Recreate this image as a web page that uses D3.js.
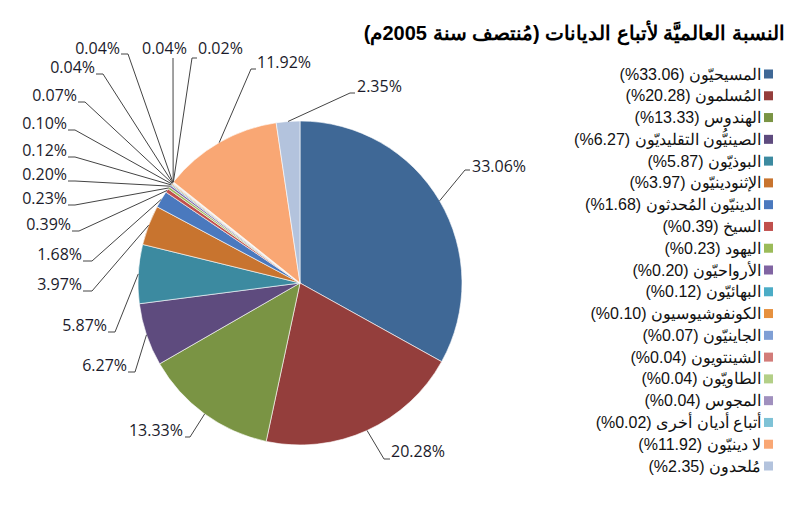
<!DOCTYPE html>
<html><head><meta charset="utf-8">
<script src="https://cdn.jsdelivr.net/npm/d3@7"></script>
<style>body{margin:0;background:#fff}svg{display:block}</style>
</head><body>
<svg id="c" width="800" height="514"></svg>
<script>
const title = "النسبة العالميَّة لأتباع الديانات (مُنتصف سنة 2005م)";
const categories = ["المسيحيّون","المُسلمون","الهندوس","الصينيُّون التقليديّون","البوذيّون","الإثنودينيّون","الدينيّون المُحدثون","السيخ","اليهود","الأرواحيّون","البهائيّون","الكونفوشيوسيون","الجاينيّون","الشينتويون","الطاويّون","المجوس","أتباع أديان أخرى","لا دينيّون","مُلحدون"];
const values = [33.06,20.28,13.33,6.27,5.87,3.97,1.68,0.39,0.23,0.20,0.12,0.10,0.07,0.04,0.04,0.04,0.02,11.92,2.35];
const colors = ["#3F6896","#943E3C","#7A9444","#5E4B7E","#3C8AA0","#C8742F","#4A79BE","#C0504D","#9BBB59","#8064A2","#4BACC6","#E6913F","#7F9FD5","#D27C79","#B3CF87","#A090BE","#7EC2D6","#F9A774","#B3C3DD"];
// label layout: text x, baseline y, anchor, elbow (ex,ey), horizontal end hx
const labelLayout = [
 {x:472,y:172,a:"start",ex:465,ey:170,hx:470},
 {x:391,y:457,a:"start",ex:384,ey:459,hx:390},
 {x:183,y:436,a:"end",ex:190,ey:437,hx:185},
 {x:127,y:371,a:"end",ex:135,ey:372,hx:128},
 {x:107,y:331,a:"end",ex:115,ey:332,hx:108},
 {x:82,y:290,a:"end",ex:92,ey:291,hx:83},
 {x:82,y:260,a:"end",ex:92,ey:261,hx:83},
 {x:71,y:230,a:"end",ex:79,ey:231,hx:72},
 {x:67,y:204,a:"end",ex:75,ey:205,hx:68},
 {x:67,y:180,a:"end",ex:75,ey:181,hx:68},
 {x:67,y:156,a:"end",ex:75,ey:157,hx:68},
 {x:67,y:129,a:"end",ex:75,ey:130,hx:68},
 {x:77,y:101,a:"end",ex:85,ey:102,hx:78},
 {x:95,y:73,a:"end",ex:103,ey:74,hx:96},
 {x:120,y:54,a:"end",ex:128,ey:54,hx:121},
 {x:142,y:54,a:"start",ex:173,ey:58,hx:173},
 {x:198,y:54,a:"start",ex:192,ey:58,hx:197},
 {x:257,y:68,a:"start",ex:251,ey:69,hx:256},
 {x:357,y:92,a:"start",ex:350,ey:93,hx:355}
];
const data = categories.map((c,i)=>({cat:c, v:values[i], color:colors[i], lay:labelLayout[i]}));

const svg = d3.select("#c");
const cx = 300, cy = 283, r = 162;

svg.append("text").attr("x",785).attr("y",40)
  .attr("direction","rtl").attr("text-anchor","start")
  .attr("font-family","Liberation Sans, Arial, sans-serif").attr("font-weight","bold")
  .attr("font-size",20).attr("fill","#000").text(title);

const pie = d3.pie().sort(null).value(d=>d.v);
const arcs = pie(data);
const arc = d3.arc().innerRadius(0).outerRadius(r);
const g = svg.append("g").attr("transform",`translate(${cx},${cy})`);
g.selectAll("path").data(arcs).join("path")
  .attr("d",arc).attr("fill",d=>d.data.color)
  .attr("stroke","#fff").attr("stroke-width",0.6);

// leader lines & labels
const fmt = d3.format(".2f");
arcs.forEach(d=>{
  const m = (d.startAngle+d.endAngle)/2;
  const px = cx + r*Math.sin(m), py = cy - r*Math.cos(m);
  const L = d.data.lay;
  svg.append("polyline")
    .attr("points",`${px},${py} ${L.ex},${L.ey} ${L.hx},${L.ey}`)
    .attr("fill","none").attr("stroke","#444").attr("stroke-width",1);
  svg.append("text").attr("x",L.x).attr("y",L.y).attr("text-anchor",L.a)
    .attr("font-family","Open Sans, sans-serif").attr("font-size",16)
    .attr("fill","#1b1b2b").text(fmt(d.data.v)+"%");
});

// legend
const legY = d3.scalePoint().domain(d3.range(categories.length)).range([74,466]);
const lg = svg.append("g");
data.forEach((d,i)=>{
  const y = legY(i);
  lg.append("rect").attr("x",764).attr("y",y-4.5).attr("width",9).attr("height",9).attr("fill",d.color);
  lg.append("text").attr("x",761).attr("y",y+5.5)
    .attr("direction","rtl").attr("text-anchor","start")
    .attr("font-family","Liberation Sans, Arial, sans-serif").attr("font-size",16)
    .attr("fill","#111").text(`${d.cat} (${fmt(d.v)}%)`);
});
</script>
</body></html>
